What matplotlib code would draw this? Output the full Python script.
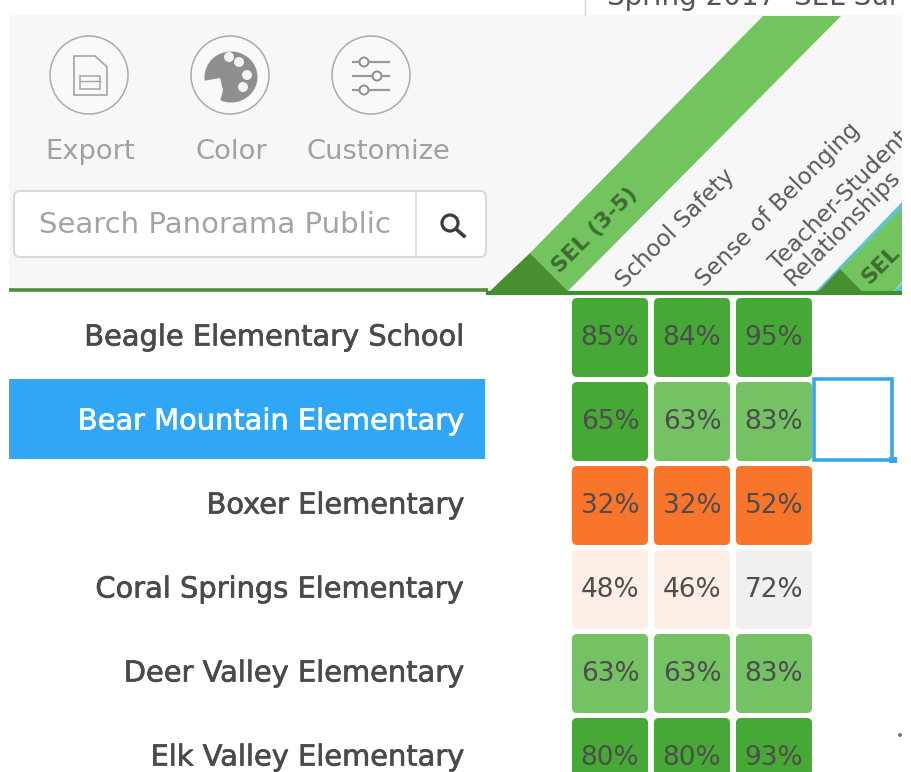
import matplotlib
matplotlib.use("Agg")
import matplotlib.pyplot as plt
import matplotlib.patheffects as pe
from matplotlib.patches import Circle, Ellipse, FancyBboxPatch, Polygon, Rectangle

plt.rcParams['font.family'] = ['DejaVu Sans']

schools = ["Beagle Elementary School", "Bear Mountain Elementary", "Boxer Elementary",
           "Coral Springs Elementary", "Deer Valley Elementary", "Elk Valley Elementary"]
topics = ["School Safety", "Sense of Belonging", "Teacher-Student\nRelationships"]
school_safety = [85, 65, 32, 48, 63, 80]
belonging = [84, 63, 32, 46, 63, 80]
teacher = [95, 83, 52, 72, 83, 93]

# colour bucket of every cell, same order as the values
safety_colors = ["dark", "dark", "orange", "pale", "light", "dark"]
belonging_colors = ["dark", "light", "orange", "pale", "light", "dark"]
teacher_colors = ["dark", "light", "orange", "gray", "light", "dark"]

palette = {"dark": "#47a935", "light": "#74c264", "orange": "#f9752c",
           "pale": "#fdeee6", "gray": "#f0f0f0"}
text_col = "#4d4d4d"
icon_col = "#8f8f8f"

fig = plt.figure(figsize=(9.12, 7.72), dpi=100)
ax = fig.add_axes([0, 0, 1, 1])
ax.set_xlim(0, 912)
ax.set_ylim(772, 0)
ax.axis("off")

# panel background
ax.add_patch(Rectangle((9, 15), 893, 277, color="#f7f7f7", lw=0))
ax.plot([585, 585], [0, 15], color="#d5d5d5", lw=1)
ax.text(607, -3, "Spring 2017  SEL Survey", fontsize=20, color="#555555", va="center", clip_on=True)

# toolbar icons
for cx in [89, 230, 371]:
    ax.add_patch(Circle((cx, 75), 39, fc="#f9f9f9", ec="#ababab", lw=1.1))

ax.add_patch(Polygon([(74, 56), (95, 56), (107, 67), (107, 95), (74, 95)], closed=True,
                     fc="none", ec="#ababab", lw=1.3, joinstyle="round"))
ax.add_patch(Rectangle((80, 76), 20, 13, fc="none", ec="#a5a5a5", lw=1.1))
ax.plot([80, 100], [81, 81], color="#a5a5a5", lw=1)

ax.add_patch(Ellipse((231, 77), 53, 51, color=icon_col, lw=0))
for hx, hy in [(229, 57), (239, 62), (247, 75), (243, 87)]:
    ax.add_patch(Circle((hx, hy), 5, color="#f4f4f4", lw=0))
ax.add_patch(Polygon([(203, 81), (220, 78), (223, 90), (219, 106), (206, 100)], closed=True,
                     color="#f9f9f9", lw=0))

for y, knob in [(62, 364), (76, 377), (90, 364)]:
    ax.plot([353, 389], [y, y], color="#9a9a9a", lw=1.6)
    ax.add_patch(Circle((knob, y), 4.5, fc="#f7f7f7", ec="#8f8f8f", lw=1.4, zorder=3))

for label, cx in [("Export", 90), ("Color", 231), ("Customize", 378)]:
    ax.text(cx, 152, label, fontsize=19.7, color="#a0a0a0", ha="center", va="center")

# search box
ax.add_patch(FancyBboxPatch((14, 191), 472, 66, boxstyle="round,pad=0,rounding_size=6",
                            fc="white", ec="#d8d8d8", lw=1.5))
ax.plot([416, 416], [191, 257], color="#d8d8d8", lw=1.2)
ax.text(39, 225, "Search Panorama Public", fontsize=21, color="#a3a3a3", va="center")
ax.add_patch(Circle((450, 223), 8, fc="none", ec="#3c3c3c", lw=2.3))
ax.plot([456, 464], [229, 236], color="#3c3c3c", lw=2.6)

# diagonal group bands
ax.add_patch(Polygon([(530, 253), (763, 16), (841, 16), (568, 291)], closed=True, color="#72c45f", lw=0))
ax.add_patch(Polygon([(488, 293), (530, 253), (568, 291)], closed=True, color="#478f2f", lw=0))
ax.text(556, 270, "SEL (3-5)", fontsize=15.7, fontweight="bold", color="#3f6b33", rotation=45,
        rotation_mode="anchor", ha="left", va="center")

ax.add_patch(Polygon([(815, 292), (902, 202), (902, 212), (826, 292)], closed=True, color="#5fc3d8", lw=0))
ax.add_patch(Polygon([(840, 270), (902, 208), (902, 282), (893, 292), (864, 293)], closed=True,
                     color="#72c45f", lw=0))
ax.add_patch(Polygon([(893, 292), (902, 283), (902, 292)], closed=True, color="#5fc3d8", lw=0))
ax.add_patch(Polygon([(817, 293), (840, 269), (864, 293)], closed=True, color="#478f2f", lw=0))
ax.text(865, 281, "SEL", fontsize=15.7, fontweight="bold", color="#3f6b33", rotation=45,
        rotation_mode="anchor", ha="left", va="center")

# header rules
ax.plot([9, 488], [290, 290], color="#4f8f3c", lw=2.6, solid_capstyle="butt")
ax.plot([486, 902], [293, 293], color="#3f8f2d", lw=3, solid_capstyle="butt")

# column titles
title_x = [620, 700, 781]
title_y = [284, 283, 274]
for name, tx, ty in zip(topics, title_x, title_y):
    ax.text(tx, ty, name, fontsize=16.6, color="#5a5a5a", rotation=45, rotation_mode="anchor",
            ha="left", va="center", linespacing=0.9)

# selected row and selected empty cell
ax.add_patch(Rectangle((9, 379), 476, 80, color="#2fa6f6", lw=0))
ax.add_patch(Rectangle((814, 379), 78, 81, fc="white", ec="#3aa5e8", lw=2.6))
ax.add_patch(Rectangle((889, 457), 8, 6, color="#3aa5e8", lw=0))

# row labels and heat cells
columns = [(school_safety, safety_colors), (belonging, belonging_colors), (teacher, teacher_colors)]
for i, school in enumerate(schools):
    row_y = 336 + i * 84
    selected = school == "Bear Mountain Elementary"
    color = "white" if selected else "#4a4a4a"
    ax.text(465, row_y + 1.5, school, fontsize=20.8, color=color, ha="right", va="center",
            path_effects=[pe.withStroke(linewidth=0.5, foreground=color)])
    for j, (values, colors) in enumerate(columns):
        left = 572 + j * 82
        ax.add_patch(FancyBboxPatch((left, row_y - 38), 76, 79, boxstyle="round,pad=0,rounding_size=5",
                                    fc=palette[colors[i]], ec="none"))
        ax.text(left + 38, row_y + 2, f"{values[i]}%", fontsize=19, color=text_col,
                ha="center", va="center")

# white margin on the right hides whatever runs past the panel
ax.add_patch(Rectangle((902, 0), 10, 772, color="white", lw=0, zorder=5))
ax.add_patch(Circle((900, 735), 2, color="#777777", lw=0, zorder=6))

fig.savefig("out.png", dpi=100)
